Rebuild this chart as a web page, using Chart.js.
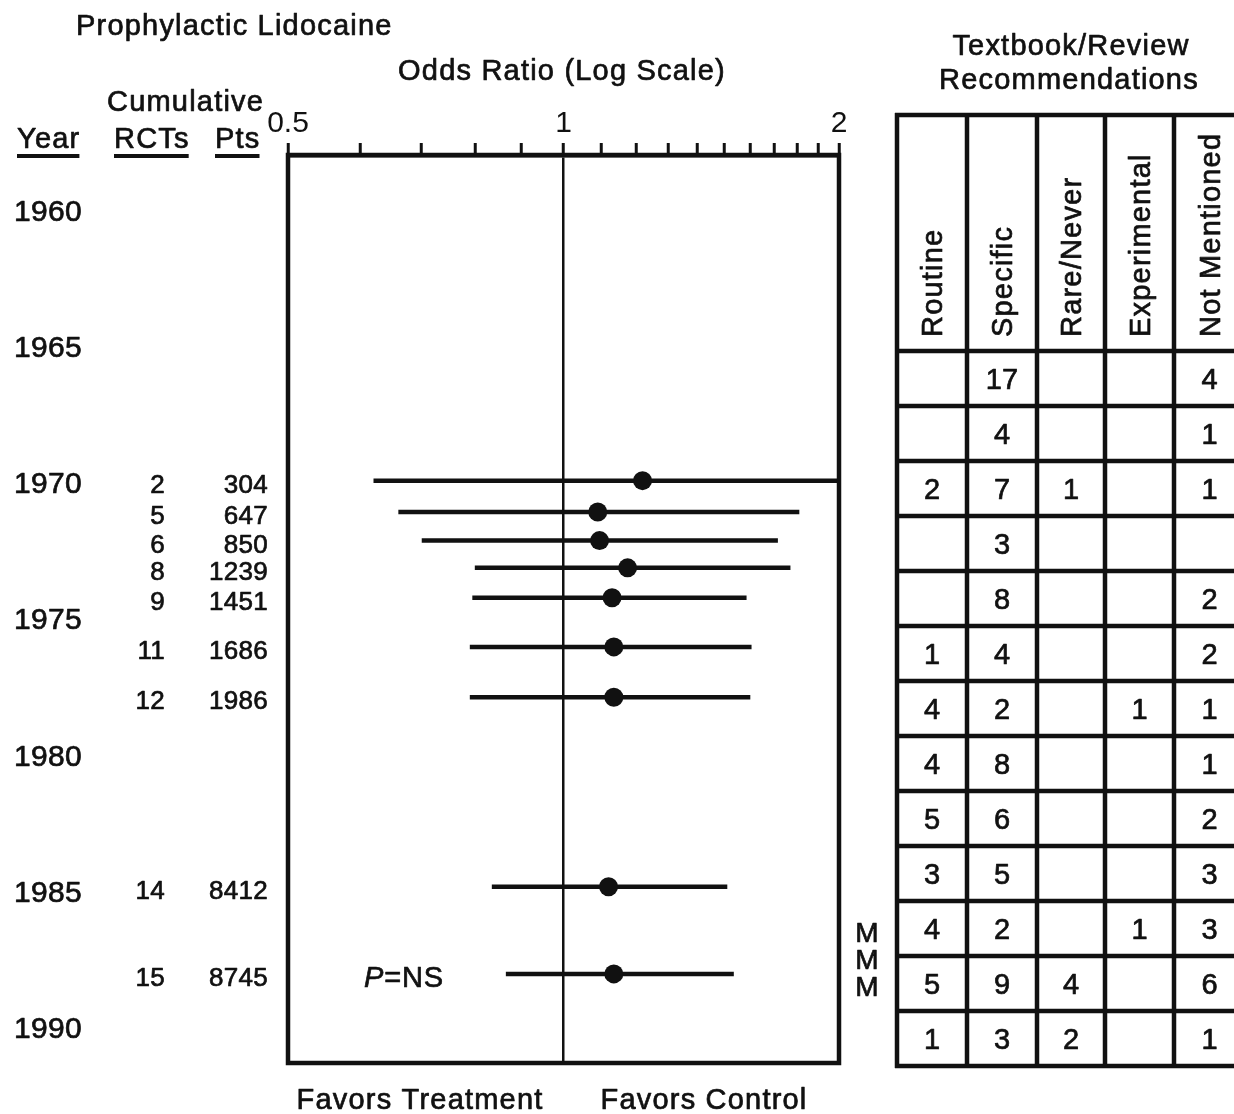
<!DOCTYPE html>
<html>
<head>
<meta charset="utf-8">
<title>Prophylactic Lidocaine</title>
<script src="https://cdn.jsdelivr.net/npm/chart.js@4.4.0/dist/chart.umd.min.js"></script>
<style>
  html, body { margin: 0; padding: 0; background: #fff; }
  #wrap { width: 1234px; height: 1114px; }
</style>
</head>
<body>
<div id="wrap"><canvas id="chart" width="1234" height="1114"></canvas></div>
<script>
// cumulative meta-analysis rows
const years = [1969.95, 1971.1, 1972.15, 1973.15, 1974.25, 1976.05, 1977.9, 1984.85, 1988.05];
const oddsRatio = [1.22, 1.09, 1.095, 1.175, 1.13, 1.135, 1.135, 1.12, 1.135];
const ciLow = [0.62, 0.66, 0.70, 0.80, 0.795, 0.79, 0.79, 0.835, 0.865];
const ciHigh = [2.0, 1.81, 1.715, 1.77, 1.585, 1.605, 1.60, 1.51, 1.535];
const cumRCTs = [2, 5, 6, 8, 9, 11, 12, 14, 15];
const cumPts = [304, 647, 850, 1239, 1451, 1686, 1986, 8412, 8745];

// axes
const yearLabels = [1960, 1965, 1970, 1975, 1980, 1985, 1990];
const xTicks = [0.5, 0.6, 0.7, 0.8, 0.9, 1, 1.1, 1.2, 1.3, 1.4, 1.5, 1.6, 1.7, 1.8, 1.9, 2];
const xTickLabels = ['0.5', '', '', '', '', '1', '', '', '', '', '', '', '', '', '', '2'];
const metaYears = [1986.5, 1987.5, 1988.5];   // the "M" marks

// textbook / review recommendations table
const recCols = ['Routine', 'Specific', 'Rare/Never', 'Experimental', 'Not Mentioned'];
const routine      = [null, null, 2, null, null, 1, 4, 4, 5, 3, 4, 5, 1];
const specific     = [17, 4, 7, 3, 8, 4, 2, 8, 6, 5, 2, 9, 3];
const rareNever    = [null, null, 1, null, null, null, null, null, null, null, null, 4, 2];
const experimental = [null, null, null, null, null, null, 1, null, null, null, 1, null, null];
const notMentioned = [4, 1, 1, null, 2, 2, 1, 1, 2, 3, 3, 6, 1];

const FONT = '"Liberation Sans", Arial, Helvetica, sans-serif';
const INK = '#111';

// text with a thin stroke so it has the weight of the printed figure
function put(ctx, str, x, y, size, align, opt) {
  opt = opt || {};
  ctx.save();
  ctx.font = (opt.style ? opt.style + ' ' : '') + size + 'px ' + FONT;
  ctx.fillStyle = INK;
  ctx.strokeStyle = INK;
  ctx.lineWidth = 0.7;
  ctx.lineJoin = 'round';
  ctx.textAlign = align || 'left';
  ctx.textBaseline = 'alphabetic';
  ctx.letterSpacing = (opt.ls != null ? opt.ls : 1.2) + 'px';
  ctx.fillText(str, x, y);
  ctx.strokeText(str, x, y);
  const w = ctx.measureText(str).width;
  ctx.restore();
  return w;
}

function hline(ctx, x1, x2, y, w) {
  ctx.lineWidth = w;
  ctx.beginPath(); ctx.moveTo(x1, y); ctx.lineTo(x2, y); ctx.stroke();
}
function vline(ctx, x, y1, y2, w) {
  ctx.lineWidth = w;
  ctx.beginPath(); ctx.moveTo(x, y1); ctx.lineTo(x, y2); ctx.stroke();
}

// everything around the plot: frame, column texts, table
const decor = {
  id: 'decor',
  afterDraw(chart) {
    const { ctx, chartArea: ca } = chart;
    const y = chart.scales.y, row = chart.scales.row;
    ctx.save();
    ctx.strokeStyle = INK;
    ctx.lineWidth = 4.5;
    ctx.strokeRect(ca.left, ca.top, ca.right - ca.left, ca.bottom - ca.top);

    put(ctx, 'Prophylactic Lidocaine', 76, 35, 29);
    put(ctx, 'Odds Ratio (Log Scale)', 562, 80, 29, 'center');
    put(ctx, 'Cumulative', 107, 111, 29);
    [['Year', 17], ['RCTs', 114], ['Pts', 215]].forEach(([t, px]) => {
      const w = put(ctx, t, px, 148, 29);
      ctx.strokeStyle = INK;
      hline(ctx, px, px + w - 1, 156, 4);
    });

    yearLabels.forEach(yr => put(ctx, String(yr), 14, y.getPixelForValue(yr) + 11, 30, 'left', { ls: 0.3 }));
    years.forEach((yr, i) => {
      const py = y.getPixelForValue(yr) + 12;
      put(ctx, String(cumRCTs[i]), 165, py, 26, 'right', { ls: 0.3 });
      put(ctx, String(cumPts[i]), 268, py, 26, 'right', { ls: 0.3 });
    });

    // P=NS next to the last estimate
    const pny = y.getPixelForValue(years[years.length - 1]) + 13;
    const pw = put(ctx, 'P', 364, pny, 29, 'left', { style: 'italic', ls: 0 });
    put(ctx, '=NS', 364 + pw + 1, pny, 29, 'left', { ls: 0.8 });

    put(ctx, 'Favors Treatment', 420, 1109, 29, 'center');
    put(ctx, 'Favors Control', 704, 1109, 29, 'center');

    metaYears.forEach(v => put(ctx, 'M', 867, y.getPixelForValue(v) + 10, 28, 'center', { ls: 0 }));

    // table
    put(ctx, 'Textbook/Review', 1071, 55, 29, 'center');
    put(ctx, 'Recommendations', 1069, 89, 29, 'center');
    const tx = [897, 967, 1037, 1105, 1174, 1245];
    const tTop = 115;
    const nRows = specific.length;
    const tBottom = row.getPixelForValue(nRows);
    ctx.strokeStyle = INK;
    hline(ctx, tx[0] - 2, 1240, tTop, 4.5);
    for (let i = 0; i <= nRows; i++) hline(ctx, tx[0] - 2, 1240, row.getPixelForValue(i), 4.5);
    tx.forEach(vx => vline(ctx, vx, tTop - 2, tBottom + 2, 4.5));

    recCols.forEach((name, j) => {
      const cx = (tx[j] + tx[j + 1]) / 2;
      ctx.save();
      ctx.translate(cx + 10, 337);
      ctx.rotate(-Math.PI / 2);
      put(ctx, name, 0, 0, 29, 'left');
      ctx.restore();
    });

    [routine, specific, rareNever, experimental, notMentioned].forEach((col, j) => {
      col.forEach((v, i) => {
        if (v == null) return;
        const cy = (row.getPixelForValue(i) + row.getPixelForValue(i + 1)) / 2;
        put(ctx, String(v), (tx[j] + tx[j + 1]) / 2, cy + 10, 29, 'center', { ls: 0 });
      });
    });
    ctx.restore();
  }
};

const ciSets = years.map((yr, i) => ({
  type: 'line',
  data: [{ x: ciLow[i], y: yr }, { x: ciHigh[i], y: yr }],
  borderColor: INK,
  borderWidth: 4.5,
  pointRadius: 0,
  xAxisID: 'x',
  yAxisID: 'y'
}));

const pointSet = {
  type: 'scatter',
  data: years.map((yr, i) => ({ x: oddsRatio[i], y: yr })),
  backgroundColor: INK,
  borderWidth: 0,
  pointRadius: 9.5,
  xAxisID: 'x',
  yAxisID: 'y'
};

new Chart(document.getElementById('chart').getContext('2d'), {
  type: 'scatter',
  data: { datasets: [pointSet, ...ciSets] },
  options: {
    responsive: false,
    animation: false,
    layout: { padding: { left: 288, right: 395, top: 107, bottom: 51 } },
    plugins: { legend: { display: false }, tooltip: { enabled: false } },
    scales: {
      x: {
        type: 'logarithmic',
        position: 'top',
        min: 0.5,
        max: 2,
        afterBuildTicks: s => { s.ticks = xTicks.map(v => ({ value: v })); },
        afterFit: s => { s.height = 48; },
        ticks: {
          autoSkip: false,
          maxRotation: 0,
          padding: 1,
          color: INK,
          font: { family: FONT, size: 30 },
          callback: v => {
            const i = xTicks.findIndex(t => Math.abs(t - v) < 1e-9);
            return i >= 0 ? xTickLabels[i] : '';
          }
        },
        grid: {
          drawOnChartArea: true,
          color: c => (c.tick && Math.abs(c.tick.value - 1) < 1e-9) ? INK : 'rgba(0,0,0,0)',
          lineWidth: 2.5,
          tickColor: INK,
          tickWidth: 3,
          tickLength: 12
        },
        border: { display: true, color: INK, width: 4.5 }
      },
      y: { type: 'linear', reverse: true, min: 1958, max: 1991.32, display: false },
      row: { type: 'linear', axis: 'y', reverse: true, min: -3.5636, max: 12.945, display: false }
    }
  },
  plugins: [decor]
});
</script>
</body>
</html>
